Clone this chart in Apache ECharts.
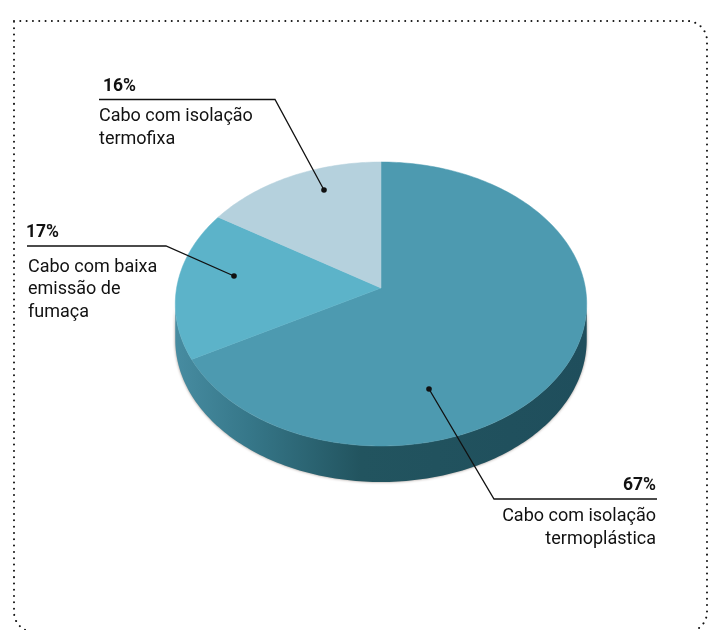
<!DOCTYPE html>
<html><head><meta charset="utf-8">
<style>html,body{margin:0;padding:0;background:#fff}#c{width:714px;height:630px}</style>
<script src="https://cdn.jsdelivr.net/npm/echarts@6/dist/echarts.min.js"></script>
</head><body><div id="c"></div>
<script>
// Data
const categories = ['Cabo com isolação termoplástica', 'Cabo com baixa emissão de fumaça', 'Cabo com isolação termofixa'];
const shares = [67, 17, 16];
const percentLabels = ['67%', '17%', '16%'];
const sliceColors = ['#4d9ab0', '#5cb3c9', '#b5d1dd'];

// Projection of the tilted disc (seen in perspective)
const disc = { cx: 381, cy: 288, halfW: 204.4, halfH: 140.2, persp: 0.1127, depth: 36 };
function project(theta) {
  const u = Math.sin(theta), v = Math.cos(theta), d = 1 + disc.persp * v;
  return [disc.cx + disc.halfW * u / d, disc.cy - disc.halfH * v / d];
}
const total = shares.reduce((a, b) => a + b, 0);
const startFractions = shares.map((_, i) => shares.slice(0, i).reduce((a, b) => a + b, 0) / total);

function arc(a0, a1, n) {
  const pts = [];
  for (let k = 0; k <= n; k++) pts.push(project(a0 + (a1 - a0) * k / n));
  return pts;
}
function arcPoints(i) {
  const a0 = startFractions[i] * 2 * Math.PI;
  return arc(a0, a0 + shares[i] / total * 2 * Math.PI, Math.max(8, shares[i] * 3));
}
const sideFill = {
  type: 'linear', global: true, x: 175, y: 0, x2: 587, y2: 0,
  colorStops: [
    { offset: 0, color: '#478ca1' }, { offset: 0.18, color: '#367789' },
    { offset: 0.45, color: '#22545f' }, { offset: 1, color: '#1f4e5c' }
  ]
};
function renderSide() {
  // visible wall of the disc: from the right-hand to the left-hand widest point
  const from = Math.acos(-disc.persp);
  const pts = arc(from, 2 * Math.PI - from, 160);
  const low = pts.map(p => [p[0], p[1] + disc.depth]).reverse();
  return { type: 'polygon', shape: { points: pts.concat(low) },
    style: { fill: sideFill, shadowBlur: 3, shadowColor: 'rgba(70,50,40,0.55)' } };
}
function renderTop(params, api) {
  const i = api.value(0);
  return { type: 'polygon', shape: { points: [[disc.cx, disc.cy]].concat(arcPoints(i)) },
    style: { fill: sliceColors[i], stroke: sliceColors[i], lineWidth: 0.5 } };
}
const ink = '#111111';
const fam = 'Roboto, "Liberation Sans", sans-serif';
function pct(x, y, s, align) {
  return { type: 'text', z: 10, x, y, silent: true, style: { text: s, fill: ink, font: 'bold 17.5px ' + fam, textAlign: align, textVerticalAlign: 'middle' } };
}
function body(x, y, s, align) {
  return { type: 'text', z: 10, x, y, silent: true, style: { text: s, fill: ink, font: '18px ' + fam, textAlign: align, textVerticalAlign: 'middle', lineHeight: 22.5 } };
}
function leader(points) {
  return { type: 'polyline', z: 10, silent: true, shape: { points }, style: { stroke: ink, lineWidth: 1.3, fill: null } };
}
function dot(x, y) {
  return { type: 'circle', z: 10, silent: true, shape: { cx: x, cy: y, r: 2.8 }, style: { fill: ink } };
}
const option = {
  animation: false,
  backgroundColor: '#ffffff',
  series: [
    { type: 'custom', coordinateSystem: 'none', name: 'side', silent: true, renderItem: renderSide, z: 1,
      data: [[0]] },
    { type: 'custom', coordinateSystem: 'none', name: 'top', silent: true, renderItem: renderTop, z: 2,
      data: shares.map((v, i) => ({ name: categories[i], value: [i, v] })) }
  ],
  graphic: { elements: [
    { type: 'rect', silent: true, z: 0, shape: { x: 14, y: 21, width: 693, height: 611, r: [0, 20, 20, 20] },
      style: { fill: null, stroke: '#111', lineWidth: 2, lineDash: [0.01, 6.3], lineCap: 'round' } },
    leader([[99, 99.5], [275, 99.5], [324, 190]]), dot(324, 190),
    pct(103, 87, percentLabels[2], 'left'), body(99, 128, 'Cabo com isolação\ntermofixa', 'left'),
    leader([[27, 246], [166, 246], [234, 276]]), dot(234, 276),
    pct(26, 233, percentLabels[1], 'left'), body(28, 289.5, 'Cabo com baixa\nemissão de\nfumaça', 'left'),
    leader([[657, 499], [494, 499], [429, 389]]), dot(429, 389),
    pct(656, 486, percentLabels[0], 'right'), body(656, 528, 'Cabo com isolação\ntermoplástica', 'right')
  ] }
};
const chart = echarts.init(document.getElementById('c'), null, { renderer: 'canvas' });
chart.setOption(option);
</script></body></html>
